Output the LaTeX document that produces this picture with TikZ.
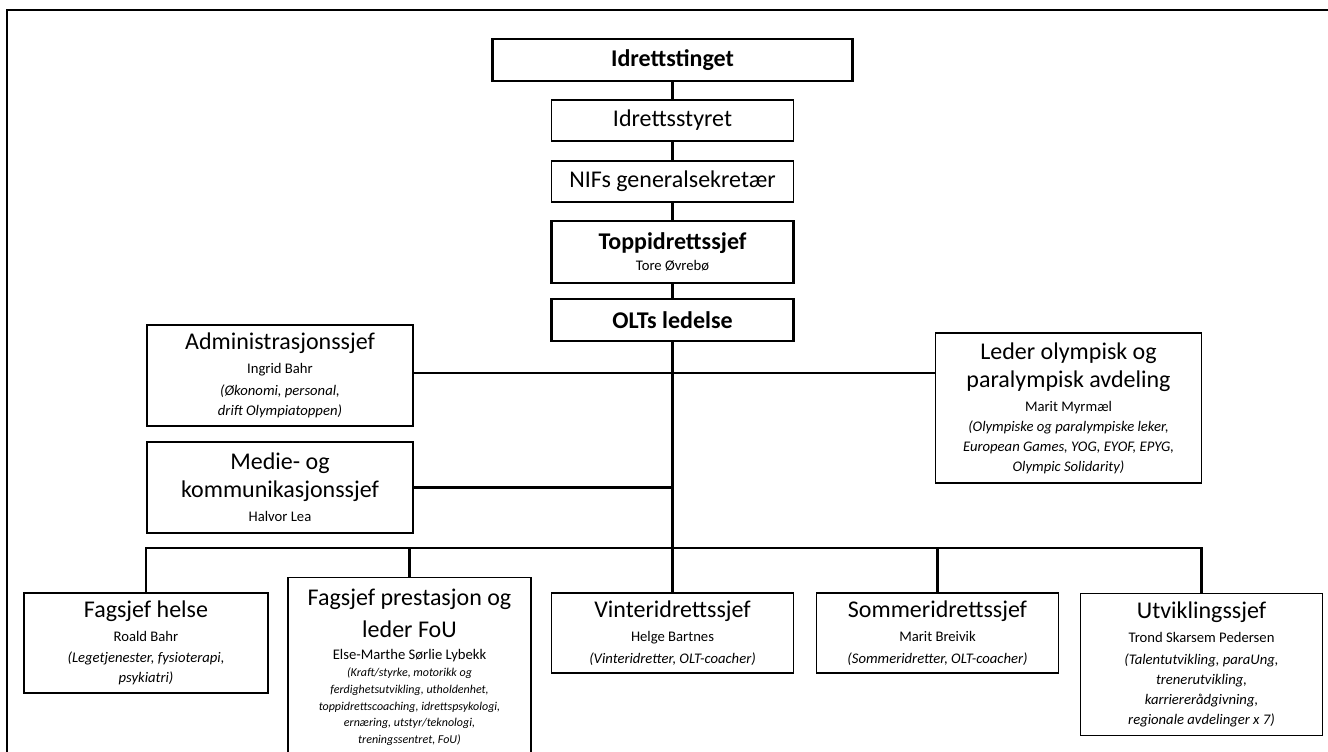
\documentclass[tikz,border=0pt]{standalone}
\usepackage{fontspec}
\setmainfont{Carlito}
\usepackage{tikz}

\tikzstyle{enhet} = [
    rectangle,
    draw,
    line width=0.9pt,
    align=center,
    inner sep=2pt,
    font=\fontsize{11}{15}\selectfont
    ]
\tikzstyle{ledelse} = [enhet, line width=2.2pt]
\tikzstyle{linje} = [line width=1.6pt]

\newcommand{\tittel}{\fontsize{18}{22}\selectfont}
\newcommand{\navn}{\fontsize{11}{15}\selectfont}
\newcommand{\oppg}{\fontsize{11}{15}\selectfont\itshape}
\newcommand{\smaa}{\fontsize{9}{12.4}\selectfont\itshape}

\begin{document}
\begin{tikzpicture}[x=0.75pt,y=-0.75pt]
        \useasboundingbox (0,0) rectangle (1328,751);
        \clip (0,0) rectangle (1328,751);

        % Frame
        \draw[line width=1.5pt] (7,800) -- (7,9.5) -- (1400,9.5);

        % Top column
        \node (ting) [ledelse, minimum width=270pt, minimum height=31.5pt] at (672.5,60) {\tittel\bfseries Idrettstinget};

        \node (styret) [enhet, minimum width=181pt, minimum height=30.75pt] at (672.5,120.5) {\tittel Idrettsstyret};

        \node (nif) [enhet, minimum width=181pt, minimum height=30.75pt] at (672.5,181.5) {\tittel NIFs generalsekretær};

        \node (topp) [ledelse, minimum width=182pt, minimum height=46.5pt] at (672.5,252) {\tittel\bfseries Toppidrettssjef\\[1pt] \navn Tore Øvrebø};

        \node (olt) [ledelse, minimum width=182pt, minimum height=31.5pt] at (672.5,320) {\tittel\bfseries OLTs ledelse};

        % Staff
        \node (admin) [enhet, minimum width=199.5pt, minimum height=75.75pt] at (280,375.5) {\tittel Administrasjonssjef\\[3pt] \navn Ingrid Bahr\\[1.5pt] \oppg (Økonomi, personal,\\ \oppg drift Olympiatoppen)};

        \node (leder) [enhet, minimum width=200pt, minimum height=112.5pt] at (1068.5,408) {\tittel Leder olympisk og\\[4.25pt] \tittel paralympisk avdeling\\[3pt] \navn Marit Myrmæl\\ \oppg (Olympiske og paralympiske leker,\\ \oppg European Games, YOG, EYOF, EPYG,\\ \oppg Olympic Solidarity)};

        \node (medie) [enhet, minimum width=199.5pt, minimum height=68.25pt] at (280,487.5) {\tittel Medie- og\\[4.5pt] \tittel kommunikasjonssjef\\[3pt] \navn Halvor Lea};

        % Bottom row
        \node (helse) [enhet, minimum width=183pt, minimum height=75pt] at (146,643) {\tittel Fagsjef helse\\[3pt] \navn Roald Bahr\\[1pt] \oppg (Legetjenester, fysioterapi,\\ \oppg psykiatri)};

        \node (prest) [enhet, minimum width=182.25pt, anchor=north, inner ysep=8.5pt, font=\fontsize{9}{12.4}\selectfont] at (409.5,577) {\tittel Fagsjef prestasjon og\\[7.75pt] \tittel leder FoU\\[3.5pt] \navn Else-Marthe Sørlie Lybekk\\[1pt] \smaa (Kraft/styrke, motorikk og\\ \smaa ferdighetsutvikling, utholdenhet,\\ \smaa toppidrettscoaching, idrettspsykologi,\\ \smaa ernæring, utstyr/teknologi,\\ \smaa treningssentret, FoU)};

        \node (vinter) [enhet, minimum width=181pt, minimum height=60pt] at (672.5,633) {\tittel Vinteridrettssjef\\[3pt] \navn Helge Bartnes\\[1pt] \oppg (Vinteridretter, OLT-coacher)};

        \node (sommer) [enhet, minimum width=182pt, minimum height=60pt] at (937.5,633) {\tittel Sommeridrettssjef\\[3pt] \navn Marit Breivik\\[1pt] \oppg (Sommeridretter, OLT-coacher)};

        \node (utv) [enhet, minimum width=182pt, minimum height=107pt] at (1201.5,664.5) {\tittel Utviklingssjef\\[3pt] \navn Trond Skarsem Pedersen\\[1pt] \oppg (Talentutvikling, paraUng,\\ \oppg trenerutvikling,\\ \oppg karriererådgivning,\\ \oppg regionale avdelinger x 7)};

        % Lines
        \draw[linje] (ting) -- (styret);
        \draw[linje] (styret) -- (nif);
        \draw[linje] (nif) -- (topp);
        \draw[linje] (topp) -- (olt);
        \draw[linje] (olt) -- (vinter);
        \coordinate (kryss) at (672.5,373);
        \draw[linje] (admin.east |- kryss) -- (leder.west |- kryss);
        \draw[linje] (medie.east) -- (medie.east -| olt.south);
        \coordinate (buss) at (672.5,548);
        \draw[linje] (helse.north) |- (buss) -| (utv.north);
        \draw[linje] (prest.north) -- (prest.north |- buss);
        \draw[linje] (sommer.north) -- (sommer.north |- buss);

    \end{tikzpicture}
\end{document}
